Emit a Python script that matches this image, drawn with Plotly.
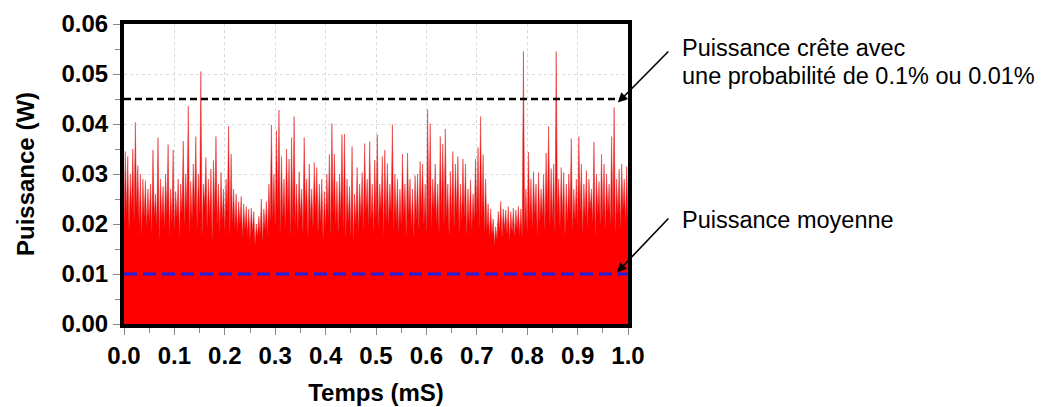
import plotly.graph_objects as go

# ---- data ----
t_step = 0.005  # ms between trough samples
spike_peaks = [
    0.0345, 0.0335, 0.0300, 0.0350, 0.0403, 0.0317, 0.0300, 0.0290, 0.0287, 0.0270,
    0.0280, 0.0348, 0.0260, 0.0373, 0.0290, 0.0275, 0.0300, 0.0359, 0.0270, 0.0348,
    0.0265, 0.0290, 0.0280, 0.0366, 0.0300, 0.0436, 0.0285, 0.0320, 0.0375, 0.0300,
    0.0505, 0.0280, 0.0333, 0.0290, 0.0310, 0.0327, 0.0375, 0.0280, 0.0303, 0.0270,
    0.0290, 0.0396, 0.0340, 0.0270, 0.0260, 0.0245, 0.0255, 0.0240, 0.0235, 0.0230,
    0.0232, 0.0225, 0.0200, 0.0215, 0.0250, 0.0230, 0.0245, 0.0280, 0.0398, 0.0300,
    0.0387, 0.0428, 0.0335, 0.0290, 0.0350, 0.0330, 0.0373, 0.0415, 0.0280, 0.0305,
    0.0270, 0.0373, 0.0290, 0.0320, 0.0270, 0.0323, 0.0313, 0.0280, 0.0290, 0.0265,
    0.0300, 0.0339, 0.0401, 0.0340, 0.0285, 0.0300, 0.0379, 0.0380, 0.0290, 0.0275,
    0.0355, 0.0260, 0.0313, 0.0280, 0.0303, 0.0361, 0.0290, 0.0365, 0.0280, 0.0328,
    0.0379, 0.0280, 0.0335, 0.0348, 0.0321, 0.0280, 0.0399, 0.0300, 0.0290, 0.0270,
    0.0340, 0.0280, 0.0342, 0.0290, 0.0270, 0.0297, 0.0300, 0.0325, 0.0320, 0.0280,
    0.0429, 0.0401, 0.0290, 0.0320, 0.0280, 0.0375, 0.0360, 0.0390, 0.0280, 0.0305,
    0.0345, 0.0320, 0.0335, 0.0280, 0.0330, 0.0320, 0.0270, 0.0288, 0.0260, 0.0330,
    0.0353, 0.0415, 0.0339, 0.0290, 0.0240, 0.0230, 0.0210, 0.0195, 0.0225, 0.0245,
    0.0230, 0.0228, 0.0235, 0.0225, 0.0232, 0.0228, 0.0235, 0.0230, 0.0545, 0.0270,
    0.0344, 0.0290, 0.0305, 0.0280, 0.0303, 0.0270, 0.0300, 0.0342, 0.0395, 0.0311,
    0.0320, 0.0545, 0.0290, 0.0313, 0.0303, 0.0280, 0.0300, 0.0371, 0.0270, 0.0290,
    0.0375, 0.0320, 0.0280, 0.0307, 0.0290, 0.0270, 0.0364, 0.0300, 0.0285, 0.0340,
    0.0320, 0.0300, 0.0280, 0.0375, 0.0433, 0.0290, 0.0310, 0.0320, 0.0290, 0.0315,
]
body_levels = [
    0.0200, 0.0225, 0.0190, 0.0230, 0.0210, 0.0235, 0.0200, 0.0180, 0.0215, 0.0195,
    0.0205, 0.0185, 0.0215, 0.0200, 0.0170, 0.0210, 0.0195, 0.0220, 0.0180, 0.0205,
    0.0190, 0.0215, 0.0175, 0.0225, 0.0200, 0.0230, 0.0185, 0.0210, 0.0235, 0.0195,
    0.0220, 0.0180, 0.0240, 0.0195, 0.0215, 0.0170, 0.0225, 0.0200, 0.0185, 0.0210,
    0.0190, 0.0225, 0.0180, 0.0205, 0.0195, 0.0185, 0.0200, 0.0175, 0.0190, 0.0180,
    0.0170, 0.0185, 0.0160, 0.0175, 0.0180, 0.0165, 0.0190, 0.0180, 0.0205, 0.0215,
    0.0200, 0.0230, 0.0185, 0.0215, 0.0195, 0.0225, 0.0180, 0.0210, 0.0200, 0.0190,
    0.0215, 0.0185, 0.0225, 0.0175, 0.0210, 0.0195, 0.0220, 0.0185, 0.0205, 0.0170,
    0.0195, 0.0215, 0.0180, 0.0225, 0.0200, 0.0185, 0.0215, 0.0195, 0.0175, 0.0205,
    0.0180, 0.0165, 0.0200, 0.0185, 0.0215, 0.0190, 0.0225, 0.0200, 0.0210, 0.0185,
    0.0215, 0.0195, 0.0230, 0.0180, 0.0210, 0.0200, 0.0225, 0.0190, 0.0205, 0.0185,
    0.0200, 0.0215, 0.0180, 0.0220, 0.0195, 0.0175, 0.0210, 0.0190, 0.0225, 0.0200,
    0.0185, 0.0215, 0.0195, 0.0230, 0.0205, 0.0185, 0.0220, 0.0200, 0.0215, 0.0180,
    0.0210, 0.0195, 0.0225, 0.0185, 0.0205, 0.0215, 0.0180, 0.0200, 0.0190, 0.0210,
    0.0220, 0.0195, 0.0215, 0.0185, 0.0190, 0.0175, 0.0180, 0.0160, 0.0170, 0.0185,
    0.0175, 0.0190, 0.0180, 0.0170, 0.0185, 0.0175, 0.0190, 0.0180, 0.0175, 0.0195,
    0.0185, 0.0210, 0.0195, 0.0220, 0.0180, 0.0205, 0.0215, 0.0190, 0.0225, 0.0200,
    0.0210, 0.0185, 0.0220, 0.0195, 0.0215, 0.0180, 0.0205, 0.0225, 0.0190, 0.0210,
    0.0200, 0.0225, 0.0185, 0.0215, 0.0195, 0.0230, 0.0205, 0.0180, 0.0220, 0.0200,
    0.0215, 0.0190, 0.0225, 0.0200, 0.0210, 0.0185, 0.0220, 0.0195, 0.0230, 0.0205,
    0.0210,
]
peak_power = 0.045      # W, peak power (0.1% / 0.01% probability)
mean_power = 0.010      # W, mean power
x_ticks = [0.0, 0.1, 0.2, 0.3, 0.4, 0.5, 0.6, 0.7, 0.8, 0.9, 1.0]
y_ticks = [0.00, 0.01, 0.02, 0.03, 0.04, 0.05, 0.06]
x_title = "Temps (mS)"
y_title = "Puissance (W)"
label_peak_1 = "Puissance crête avec"
label_peak_2 = "une probabilité de 0.1% ou 0.01%"
label_mean = "Puissance moyenne"

# ---- build the signal trace (alternating body level / spike) ----
sig_x, sig_y = [], []
for i, pk in enumerate(spike_peaks):
    sig_x += [i * t_step, i * t_step + t_step / 2]
    sig_y += [body_levels[i], pk]
sig_x.append(len(spike_peaks) * t_step)
sig_y.append(body_levels[-1])

FONT = "Liberation Sans, Arial, sans-serif"
BOLD24 = dict(family=FONT, size=24, color="black", weight="bold")

fig = go.Figure()
fig.add_trace(go.Scatter(
    x=sig_x, y=sig_y, mode="lines", fill="tozeroy",
    fillcolor="#ff0000", line=dict(color="rgba(225,40,40,0.85)", width=0.6),
    showlegend=False, hoverinfo="skip",
))
fig.add_trace(go.Scatter(
    x=[0, 1], y=[peak_power, peak_power], mode="lines",
    line=dict(color="black", width=2.5, dash="7px,4px"),
    showlegend=False,
))
fig.add_trace(go.Scatter(
    x=[0, 1], y=[mean_power, mean_power], mode="lines",
    line=dict(color="#2020e0", width=3, dash="13px,6px"),
    showlegend=False,
))

axis_common = dict(
    automargin=False,
    showline=True, linewidth=4, linecolor="black", mirror=True,
    ticks="outside", ticklen=7, tickwidth=1, tickcolor="#888888",
    showgrid=True, gridcolor="#dadada", griddash="dot", gridwidth=1,
    zeroline=False,
    tickfont=BOLD24,
    minor=dict(ticks="outside", ticklen=5, tickcolor="#888888", showgrid=False),
)

fig.update_layout(
    width=1044, height=407,
    margin=dict(l=124, r=416, t=24, b=83),
    paper_bgcolor="white", plot_bgcolor="white",
    xaxis=dict(range=[0, 1], tickvals=x_ticks, tickformat=".1f",
               title=dict(text=x_title, standoff=17, font=BOLD24),
               **axis_common),
    yaxis=dict(range=[0, 0.06], tickvals=y_ticks, tickformat=".2f",
               title=dict(text=y_title, standoff=21, font=BOLD24),
               **axis_common),
)
fig.update_xaxes(minor=dict(dtick=0.05))
fig.update_yaxes(minor=dict(dtick=0.005))

ANN_FONT = dict(family=FONT, size=23.5, color="black")
for txt, ypos in [(label_peak_1, 0.920), (label_peak_2, 0.827), (label_mean, 0.347)]:
    fig.add_annotation(
        x=1.103, y=ypos, xref="paper", yref="paper", text=txt,
        showarrow=False, xanchor="left", yanchor="middle", align="left",
        font=ANN_FONT,
    )
# arrows
fig.add_annotation(
    x=0.980, y=0.0443, xref="x", yref="y",
    ax=1.083, ay=0.0548, axref="x", ayref="y",
    text="", showarrow=True, arrowhead=2, arrowsize=1.2, arrowwidth=1.6,
    arrowcolor="black",
)
fig.add_annotation(
    x=0.978, y=0.0103, xref="x", yref="y",
    ax=1.083, ay=0.0214, axref="x", ayref="y",
    text="", showarrow=True, arrowhead=2, arrowsize=1.2, arrowwidth=1.6,
    arrowcolor="black",
)
# remove the default 8px page margin so the figure fills the window exactly
fig.write_html("out.html", config={"displayModeBar": False},
               post_script="document.body.style.margin='0px';")
